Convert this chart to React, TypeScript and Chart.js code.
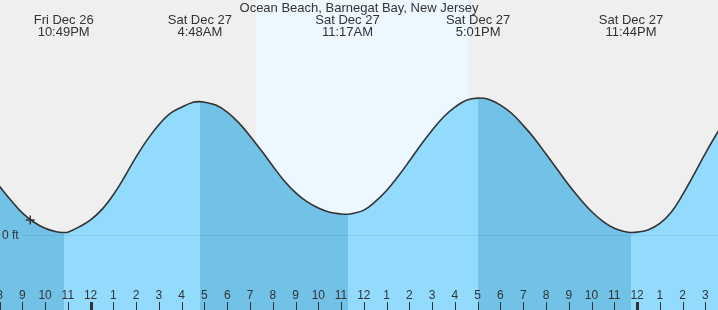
import React, { useEffect, useRef } from 'react';
import { Chart, registerables } from 'chart.js';

Chart.register(...registerables);

// ---- data (hours measured from midnight, Sat Dec 27; levels in ft) ----
const titleText = 'Ocean Beach, Barnegat Bay, New Jersey';

const tideHours = [
  -5, -4.5, -4, -3.5, -3, -2.5, -2, -1.5, -1.183, -1, -0.5,
  0, 0.5, 1, 1.5, 2, 2.5, 3, 3.5, 4, 4.5, 4.8, 5, 5.5,
  6, 6.5, 7, 7.5, 8, 8.5, 9, 9.5, 10, 10.5, 11, 11.283, 11.5,
  12, 12.5, 13, 13.5, 14, 14.5, 15, 15.5, 16, 16.5, 17.017, 17.5,
  18, 18.5, 19, 19.5, 20, 20.5, 21, 21.5, 22, 22.5, 23, 23.5, 23.733,
  24, 24.5, 25, 25.5, 26, 26.5, 27, 27.5, 28, 28.5,
];
const tideLevels = [
  1.12, 0.9, 0.7, 0.5, 0.32, 0.19, 0.1, 0.05, 0.04, 0.045, 0.12,
  0.22, 0.37, 0.58, 0.84, 1.12, 1.37, 1.58, 1.74, 1.83, 1.9, 1.91, 1.9, 1.86,
  1.76, 1.61, 1.42, 1.21, 0.99, 0.78, 0.61, 0.48, 0.39, 0.33, 0.305, 0.3, 0.31,
  0.36, 0.48, 0.64, 0.84, 1.06, 1.29, 1.5, 1.69, 1.83, 1.93, 1.96, 1.94,
  1.86, 1.74, 1.57, 1.38, 1.16, 0.94, 0.72, 0.52, 0.34, 0.2, 0.1, 0.05, 0.04,
  0.045, 0.08, 0.17, 0.33, 0.58, 0.87, 1.17, 1.45, 1.7, 1.88,
];

const eventHours = [-1.183, 4.8, 11.283, 17.017, 23.733];
const eventKinds = ['low', 'high', 'low', 'high', 'low'];
const eventDays = ['Fri Dec 26', 'Sat Dec 27', 'Sat Dec 27', 'Sat Dec 27', 'Sat Dec 27'];
const eventTimes = ['10:49PM', '4:48AM', '11:17AM', '5:01PM', '11:44PM'];

const tickHours = [-4, -3, -2, -1, 0, 1, 2, 3, 4, 5, 6, 7, 8, 9, 10, 11, 12, 13, 14, 15, 16, 17, 18, 19, 20, 21, 22, 23, 24, 25, 26, 27];
const tickLabels = ['8', '9', '10', '11', '12', '1', '2', '3', '4', '5', '6', '7', '8', '9', '10', '11', '12', '1', '2', '3', '4', '5', '6', '7', '8', '9', '10', '11', '12', '1', '2', '3'];
const midnightHours = [0, 24];

const sunriseHour = 7.26;
const sunsetHour = 16.6;

const nowHour = -2.65;
const nowLevel = 0.22;

const xMin = -3.979;
const xMax = 27.554;
const yMin = -1.067;
const yMax = 3.361;

const FALLING = '#72c1e6';
const RISING = '#93dbfd';
const FONT = '"Liberation Sans", Arial, Helvetica, sans-serif';

function tideFill(context: any) {
  const chart = context.chart;
  const area = chart.chartArea;
  const x = chart.scales && chart.scales.x;
  if (!area || !x) return RISING;
  const left = area.left;
  const right = area.right;
  const g = chart.ctx.createLinearGradient(left, 0, right, 0);
  const toOff = (h: number) => Math.min(1, Math.max(0, (x.getPixelForValue(h) - left) / (right - left)));
  let color = eventKinds[0] === 'low' ? FALLING : RISING;
  g.addColorStop(0, color);
  eventHours.forEach((h, i) => {
    const o = toOff(h);
    g.addColorStop(o, color);
    color = eventKinds[i] === 'low' ? RISING : FALLING;
    g.addColorStop(o, color);
  });
  g.addColorStop(1, color);
  return g;
}

export default function App() {
  const ref = useRef<HTMLCanvasElement>(null);

  useEffect(() => {
    const canvas = ref.current;
    if (!canvas) return;

    const decor = {
      id: 'tideDecor',
      beforeDraw(chart: any) {
        const { ctx } = chart;
        const x = chart.scales.x;
        const W = chart.width;
        const H = chart.height;
        ctx.save();
        ctx.fillStyle = '#efefef';
        ctx.fillRect(0, 0, W, H);
        const x0 = x.getPixelForValue(sunriseHour);
        const x1 = x.getPixelForValue(sunsetHour);
        ctx.fillStyle = '#edf7ff';
        ctx.fillRect(x0, 0, x1 - x0, H);
        ctx.restore();
      },
      afterDatasetsDraw(chart: any) {
        const { ctx } = chart;
        const x = chart.scales.x;
        const y = chart.scales.y;
        const W = chart.width;
        const H = chart.height;
        ctx.save();
        // zero line
        const y0 = Math.round(y.getPixelForValue(0)) + 0.5;
        ctx.strokeStyle = 'rgba(0,70,120,0.1)';
        ctx.lineWidth = 1;
        ctx.beginPath();
        ctx.moveTo(22, y0);
        ctx.lineTo(W, y0);
        ctx.stroke();
        ctx.fillStyle = '#333';
        ctx.font = `12px ${FONT}`;
        ctx.textAlign = 'left';
        ctx.textBaseline = 'middle';
        ctx.fillText('0 ft', 2, y0);

        // hour ticks
        ctx.textAlign = 'center';
        ctx.textBaseline = 'alphabetic';
        ctx.font = `12px ${FONT}`;
        tickHours.forEach((h, i) => {
          const px = x.getPixelForValue(h);
          const thick = midnightHours.includes(h);
          ctx.fillStyle = '#333';
          if (thick) {
            ctx.fillRect(Math.round(px) - 1, H - 8, 3, 8);
          } else {
            ctx.fillRect(Math.round(px), H - 8, 1, 8);
          }
          ctx.fillText(tickLabels[i], px, H - 11);
        });

        // title
        ctx.font = `13px ${FONT}`;
        ctx.fillStyle = '#333';
        ctx.fillText(titleText, W / 2, 12);

        // tide events
        eventHours.forEach((h, i) => {
          const px = x.getPixelForValue(h);
          ctx.fillText(eventDays[i], px, 24);
          ctx.fillText(eventTimes[i], px, 36);
        });
        ctx.restore();
      },
    };

    const chart = new Chart(canvas, {
      type: 'line',
      data: {
        datasets: [
          {
            label: 'now',
            data: [{ x: nowHour, y: nowLevel }],
            showLine: false,
            pointStyle: 'cross',
            pointRadius: 4.5,
            borderColor: '#333',
            borderWidth: 1.5,
            backgroundColor: '#333',
          },
          {
            label: 'tide',
            data: tideHours.map((h, i) => ({ x: h, y: tideLevels[i] })),
            borderColor: '#333',
            borderWidth: 1.6,
            backgroundColor: tideFill,
            fill: 'start',
            pointRadius: 0,
            tension: 0.4,
          },
        ],
      },
      options: {
        animation: false,
        responsive: false,
        events: [],
        layout: { padding: 0, autoPadding: false },
        plugins: {
          legend: { display: false },
          title: { display: false },
          tooltip: { enabled: false },
        },
        scales: {
          x: { type: 'linear', min: xMin, max: xMax, display: false },
          y: { type: 'linear', min: yMin, max: yMax, display: false },
        },
      },
      plugins: [decor],
    } as any);

    return () => chart.destroy();
  }, []);

  return (
    <div style={{ position: 'absolute', left: 0, top: 0, width: 718, height: 310 }}>
      <canvas ref={ref} width={718} height={310} style={{ display: 'block' }} />
    </div>
  );
}
